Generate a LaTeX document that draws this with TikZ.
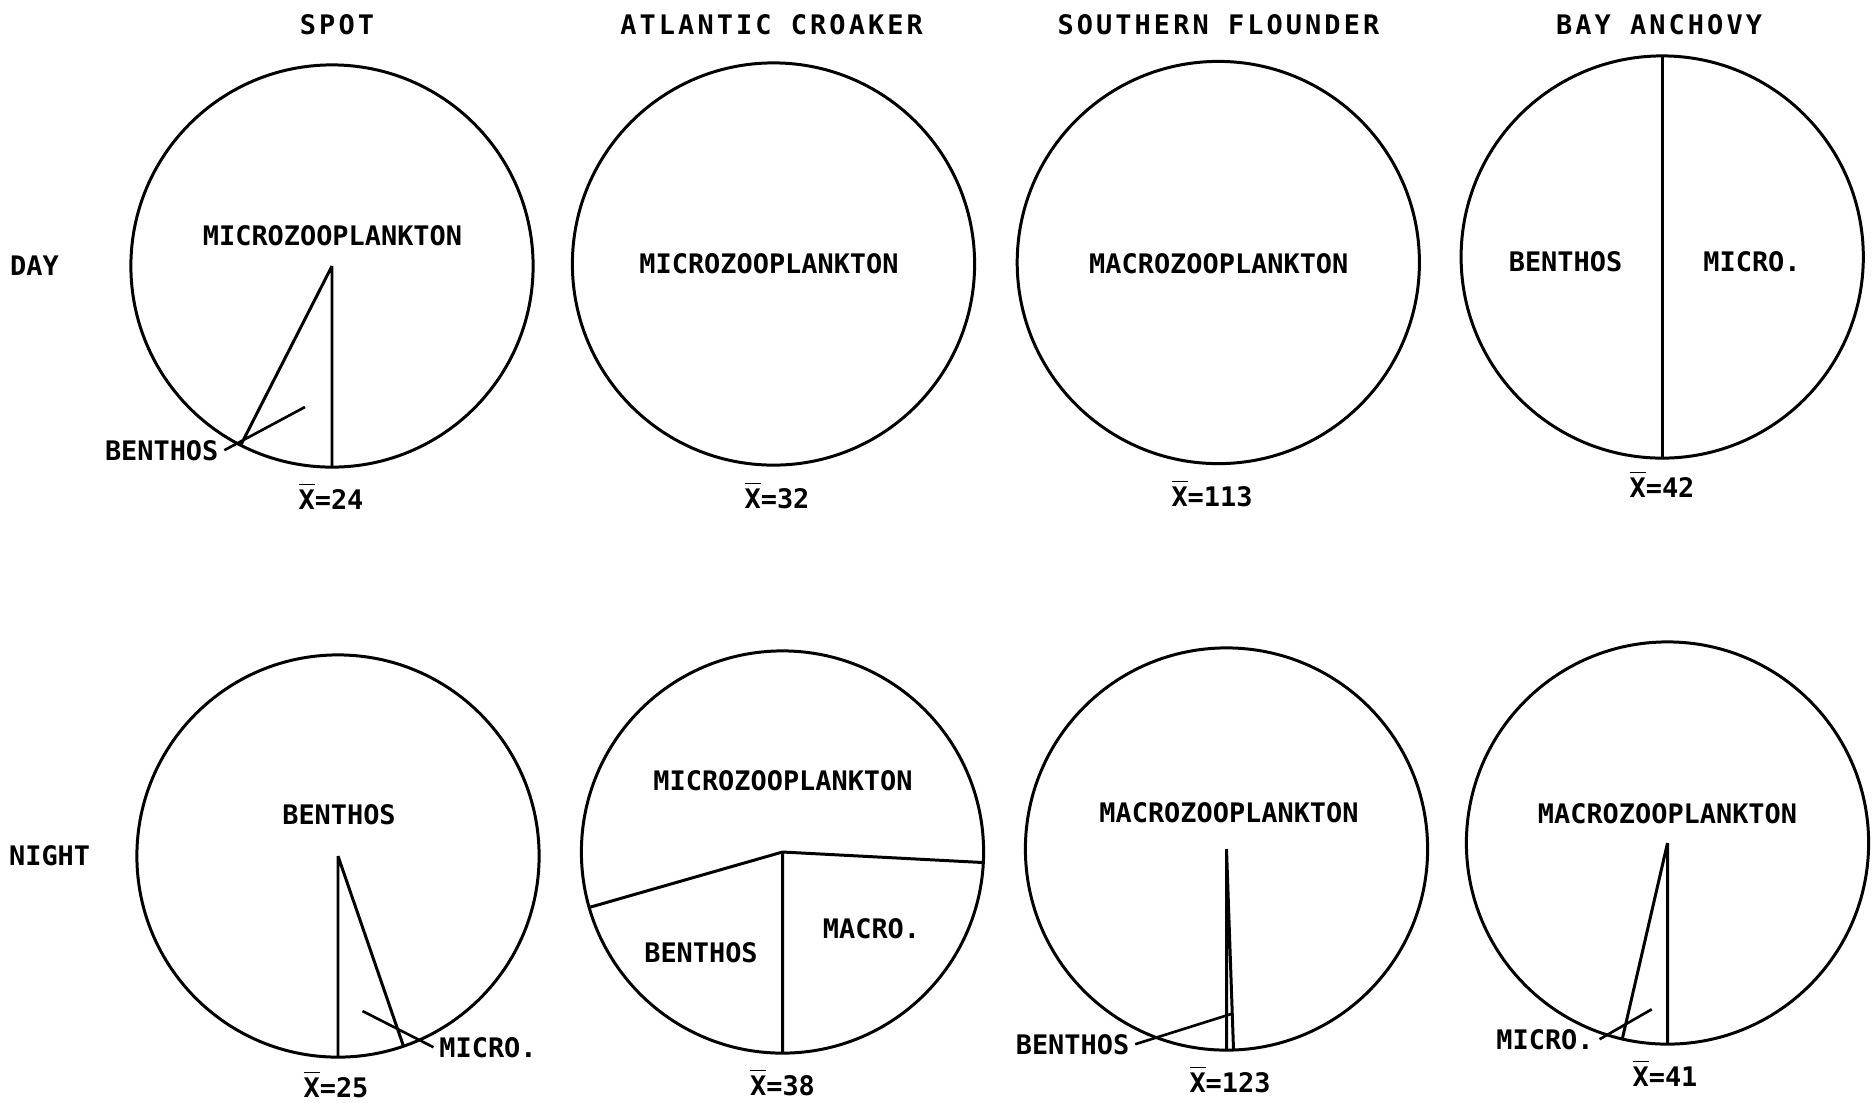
\documentclass[tikz,border=0pt]{standalone}
\usepackage{fontspec}
\newfontfamily\lblfont{DejaVu Sans Mono}
\newfontfamily\ttlfont{DejaVu Sans Mono}[LetterSpace=11.5]
\newcommand\mymean{$\overline{\mbox{X}}$}
\begin{document}
\begin{tikzpicture}[x=0.01cm,y=-0.01cm,
  pie/.style={circle,draw,line width=0.85pt,minimum size=4.02cm,inner sep=0pt,outer sep=0pt},
  lbl/.style={font=\lblfont\bfseries\fontsize{7.65}{9}\selectfont,inner sep=1.5pt,anchor=base},
  ttl/.style={font=\ttlfont\bfseries\fontsize{7.65}{9}\selectfont,inner sep=0pt,anchor=base},
  seg/.style={line width=0.85pt},
  lead/.style={line width=0.75pt}]
\useasboundingbox (0,0) rectangle (1873,1102);

% column titles and row labels
\node[ttl] (t1) at (337,34) {SPOT};
\node[ttl] (t2) at (771.6,34) {ATLANTIC CROAKER};
\node[ttl] (t3) at (1218.4,34) {SOUTHERN FLOUNDER};
\node[ttl] (t4) at (1659,34) {BAY ANCHOVY};
\node[lbl] (day) at (34.5,275) {DAY};
\node[lbl] (night) at (49.6,865) {NIGHT};

% ---------- DAY ----------
% Spot
\node[pie] (sd) at (332,266) {};
\draw[seg] (sd.center) -- (sd.270) (sd.center) -- (sd.243.8);
\node[lbl] (sdM) at (332.5,245) {MICROZOOPLANKTON};
\node[lbl] (sdB) at (161.7,460) {BENTHOS};
\coordinate (sdL) at (305,407);
\draw[lead] (sdL) -- (sdB.east);
\node[lbl] (sdX) at (331,509) {\mymean=24};

% Atlantic croaker
\node[pie] (cd) at (773.5,264) {};
\node[lbl] (cdM) at (769,273) {MICROZOOPLANKTON};
\node[lbl] (cdX) at (777,508) {\mymean=32};

% Southern flounder
\node[pie] (fd) at (1218.3,262.5) {};
\node[lbl] (fdM) at (1218.8,273) {MACROZOOPLANKTON};
\node[lbl] (fdX) at (1212,506) {\mymean=113};

% Bay anchovy
\node[pie] (ad) at (1662.2,257) {};
\draw[seg] (ad.90) -- (ad.270);
\node[lbl] (adB) at (1565.5,271.7) {BENTHOS};
\node[lbl] (adM) at (1752,271.7) {MICRO.};
\node[lbl] (adX) at (1662,497) {\mymean=42};

% ---------- NIGHT ----------
% Spot
\node[pie] (sn) at (338,856) {};
\draw[seg] (sn.center) -- (sn.270) (sn.center) -- (sn.289.3);
\node[lbl] (snB) at (339,824) {BENTHOS};
\node[lbl] (snM) at (488,1057) {MICRO.};
\coordinate (snL) at (362.5,1011);
\draw[lead] (snL) -- (snM.west);
\node[lbl] (snX) at (336,1097) {\mymean=25};

% Atlantic croaker
\node[pie] (cn) at (782.5,852) {};
\draw[seg] (cn.196.5) -- (cn.center) -- (cn.357.6) (cn.center) -- (cn.270);
\node[lbl] (cnM) at (783,790) {MICROZOOPLANKTON};
\node[lbl] (cnB) at (701,962) {BENTHOS};
\node[lbl] (cnC) at (871.5,938) {MACRO.};
\node[lbl] (cnX) at (782.5,1095) {\mymean=38};

% Southern flounder
\node[pie] (fn) at (1226.5,849) {};
\draw[seg] (fn.center) -- (fn.270) (fn.center) -- (fn.272.3);
\node[lbl] (fnM) at (1229,822.5) {MACROZOOPLANKTON};
\node[lbl] (fnB) at (1072.5,1054) {BENTHOS};
\coordinate (fnL) at (1232.7,1013.5);
\draw[lead] (fnL) -- (fnB.east);
\node[lbl] (fnX) at (1230,1092) {\mymean=123};

% Bay anchovy
\node[pie] (an) at (1667.5,843) {};
\draw[seg] (an.center) -- (an.270) (an.center) -- (an.257.8);
\node[lbl] (anM) at (1667.5,823.4) {MACROZOOPLANKTON};
\node[lbl] (anC) at (1545,1049) {MICRO.};
\coordinate (anL) at (1651.7,1009.3);
\draw[lead] (anL) -- (anC.east);
\node[lbl] (anX) at (1665,1086) {\mymean=41};
\end{tikzpicture}
\end{document}
